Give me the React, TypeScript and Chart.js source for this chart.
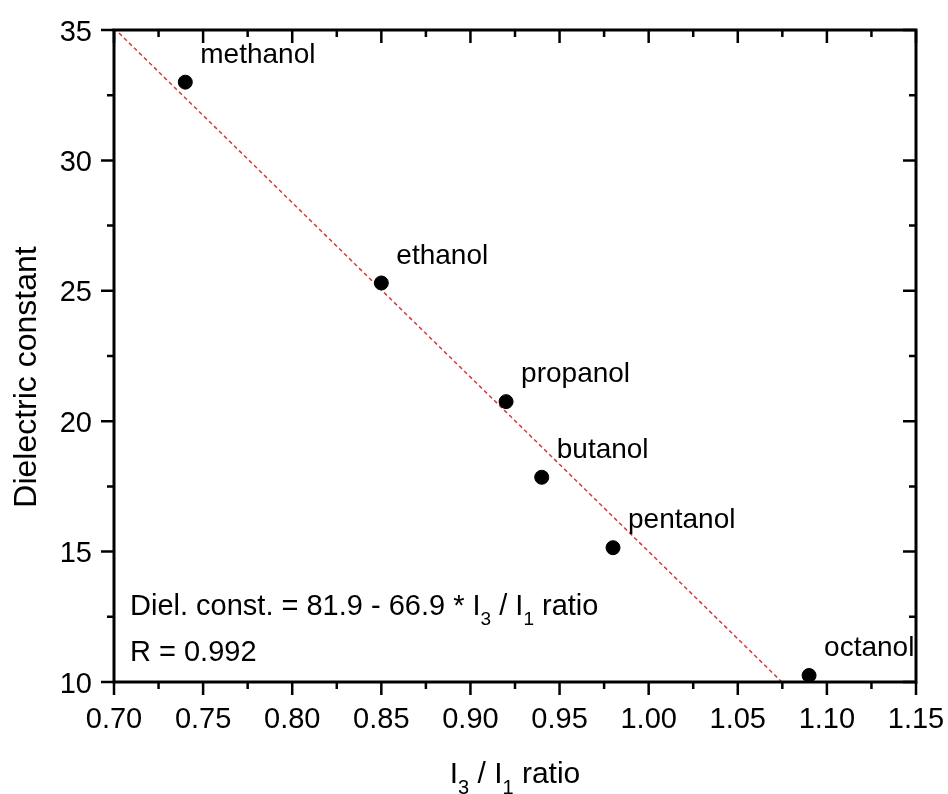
import React, { useEffect, useRef } from "react";
import { Chart, registerables } from "chart.js";

Chart.register(...registerables);

// ---- data ----
const solvents = ["methanol", "ethanol", "propanol", "butanol", "pentanol", "octanol"];
const ratioI3I1 = [0.74, 0.85, 0.92, 0.94, 0.98, 1.09];
const dielectric = [33.0, 25.3, 20.75, 17.85, 15.15, 10.25];

const fitIntercept = 81.9;
const fitSlope = -66.9;
const fitXRange = [0.70, 1.0747];

const xTicks = [0.7, 0.75, 0.8, 0.85, 0.9, 0.95, 1.0, 1.05, 1.1, 1.15];
const yTicks = [10, 15, 20, 25, 30, 35];
const xTickLabels = ["0.70", "0.75", "0.80", "0.85", "0.90", "0.95", "1.00", "1.05", "1.10", "1.15"];
const yTickLabels = ["10", "15", "20", "25", "30", "35"];

const FONT = '"Liberation Sans", Arial, Helvetica, sans-serif';

type Seg = { t: string; sub?: boolean };

function drawSegs(ctx: CanvasRenderingContext2D, segs: Seg[], x: number, y: number, size: number, subSize: number, align: "left" | "center" | "right") {
  const widths = segs.map((s) => {
    ctx.font = `${s.sub ? subSize : size}px ${FONT}`;
    return ctx.measureText(s.t).width;
  });
  const total = widths.reduce((a, b) => a + b, 0);
  let cx = align === "center" ? x - total / 2 : align === "right" ? x - total : x;
  ctx.textAlign = "left";
  ctx.textBaseline = "alphabetic";
  segs.forEach((s, i) => {
    ctx.font = `${s.sub ? subSize : size}px ${FONT}`;
    ctx.fillText(s.t, cx, s.sub ? y + size * 0.36 : y);
    cx += widths[i];
  });
}

const framePlugin = {
  id: "framePlugin",
  afterDraw(chart: any) {
    const ctx: CanvasRenderingContext2D = chart.ctx;
    const { left, right, top, bottom } = chart.chartArea;
    const xs = chart.scales.x;
    const ys = chart.scales.y;
    ctx.save();
    ctx.strokeStyle = "#000";
    ctx.fillStyle = "#000";
    ctx.lineWidth = 3;
    ctx.lineCap = "butt";
    ctx.strokeRect(left, top, right - left, bottom - top);

    const major = 13;
    const minor = 7;
    ctx.lineWidth = 2.5;
    ctx.beginPath();
    xTicks.forEach((v, i) => {
      const px = xs.getPixelForValue(v);
      ctx.moveTo(px, bottom);
      ctx.lineTo(px, bottom + major);
      ctx.moveTo(px, top);
      ctx.lineTo(px, top + major);
      if (i < xTicks.length - 1) {
        const mx = xs.getPixelForValue((v + xTicks[i + 1]) / 2);
        ctx.moveTo(mx, bottom);
        ctx.lineTo(mx, bottom + minor);
        ctx.moveTo(mx, top);
        ctx.lineTo(mx, top + minor);
      }
    });
    yTicks.forEach((v, i) => {
      const py = ys.getPixelForValue(v);
      ctx.moveTo(left, py);
      ctx.lineTo(left - major, py);
      ctx.moveTo(right, py);
      ctx.lineTo(right - major, py);
      if (i < yTicks.length - 1) {
        const my = ys.getPixelForValue((v + yTicks[i + 1]) / 2);
        ctx.moveTo(left, my);
        ctx.lineTo(left - minor, my);
        ctx.moveTo(right, my);
        ctx.lineTo(right - minor, my);
      }
    });
    ctx.stroke();

    // tick labels
    ctx.font = `29px ${FONT}`;
    ctx.textBaseline = "alphabetic";
    ctx.textAlign = "center";
    xTicks.forEach((v, i) => {
      ctx.fillText(xTickLabels[i], xs.getPixelForValue(v), bottom + 46);
    });
    ctx.textAlign = "right";
    yTicks.forEach((v, i) => {
      ctx.fillText(yTickLabels[i], left - 22, ys.getPixelForValue(v) + 10.5);
    });

    // point labels
    const meta = chart.getDatasetMeta(0);
    ctx.font = `28px ${FONT}`;
    ctx.textAlign = "left";
    ctx.textBaseline = "middle";
    meta.data.forEach((pt: any, i: number) => {
      ctx.fillText(solvents[i], pt.x + 15, pt.y - 27);
    });

    // annotations
    drawSegs(
      ctx,
      [
        { t: `Diel. const. = ${fitIntercept} - ${Math.abs(fitSlope)} * I` },
        { t: "3", sub: true },
        { t: " / I" },
        { t: "1", sub: true },
        { t: " ratio" },
      ],
      left + 16,
      bottom - 67,
      29,
      19,
      "left"
    );
    drawSegs(ctx, [{ t: "R = 0.992" }], left + 16, bottom - 21, 29, 19, "left");

    // axis titles
    drawSegs(
      ctx,
      [{ t: "I" }, { t: "3", sub: true }, { t: " / I" }, { t: "1", sub: true }, { t: " ratio" }],
      (left + right) / 2,
      783,
      30,
      20,
      "center"
    );
    ctx.save();
    ctx.translate(36, 377);
    ctx.rotate(-Math.PI / 2);
    drawSegs(ctx, [{ t: "Dielectric constant" }], 0, 0, 32, 20, "center");
    ctx.restore();

    ctx.restore();
  },
};

export default function App() {
  const ref = useRef<HTMLCanvasElement | null>(null);
  useEffect(() => {
    if (!ref.current) return;
    const fitLine = fitXRange.map((x) => ({ x, y: fitIntercept + fitSlope * x }));
    const chart = new Chart(ref.current, {
      type: "scatter",
      data: {
        datasets: [
          {
            label: "solvents",
            data: ratioI3I1.map((x, i) => ({ x, y: dielectric[i] })),
            backgroundColor: "#000",
            borderColor: "#000",
            pointRadius: 7,
            pointHoverRadius: 7,
            order: 0,
          },
          {
            type: "line",
            label: "fit",
            data: fitLine,
            borderColor: "#d43a3a",
            borderWidth: 1.5,
            borderDash: [4, 3],
            pointRadius: 0,
            showLine: true,
            fill: false,
            order: 1,
          } as any,
        ],
      },
      options: {
        animation: false,
        responsive: false,
        events: [],
        layout: { padding: { top: 30, right: 32, left: 0, bottom: 0 } },
        plugins: { legend: { display: false }, tooltip: { enabled: false }, title: { display: false } },
        scales: {
          x: {
            type: "linear",
            min: 0.7,
            max: 1.15,
            grid: { display: false },
            border: { display: false },
            ticks: { display: false },
            afterFit: (s: any) => {
              s.height = 112;
            },
          },
          y: {
            type: "linear",
            min: 10,
            max: 35,
            grid: { display: false },
            border: { display: false },
            ticks: { display: false },
            afterFit: (s: any) => {
              s.width = 114;
            },
          },
        },
      },
      plugins: [framePlugin],
    });
    return () => chart.destroy();
  }, []);
  return (
    <div style={{ position: "absolute", left: 0, top: 0, width: 948, height: 794, background: "#fff" }}>
      <canvas ref={ref} width={948} height={794} />
    </div>
  );
}
